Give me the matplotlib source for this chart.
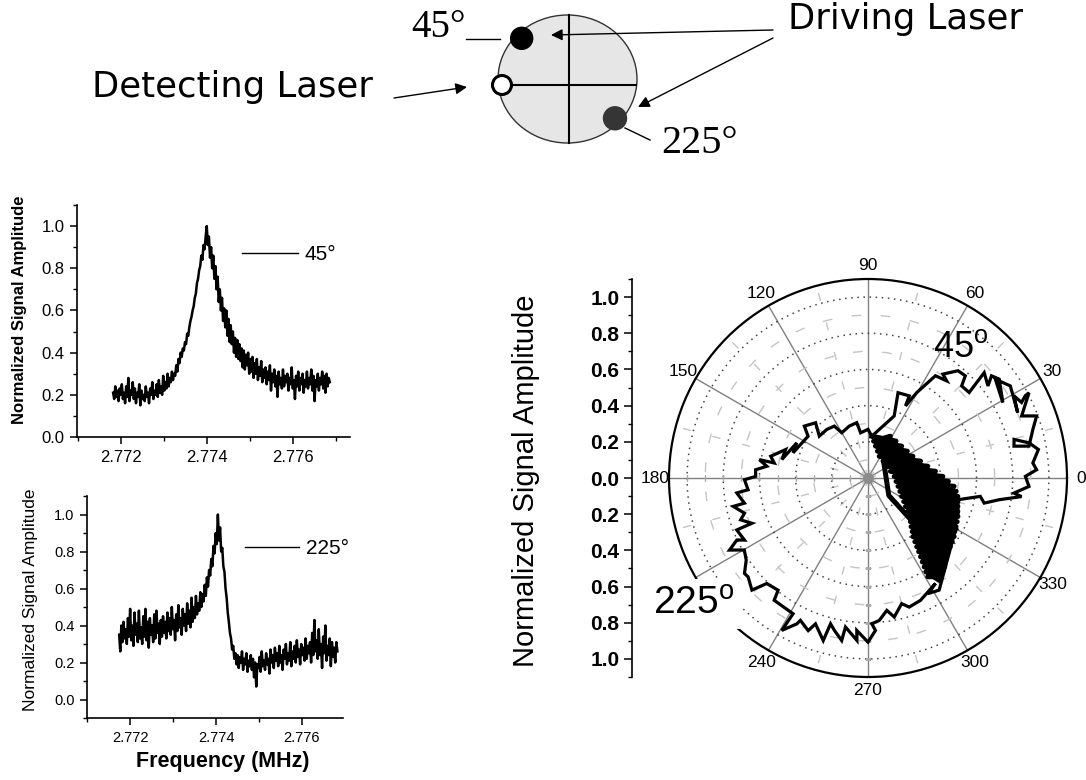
import numpy as np
import matplotlib
matplotlib.use('Agg')
import matplotlib.pyplot as plt
from matplotlib.patches import Ellipse, Circle
from matplotlib.ticker import MultipleLocator, FuncFormatter

plt.rcParams['font.family'] = ['Liberation Sans', 'DejaVu Sans']
plt.rcParams['mathtext.fontset'] = 'custom'
plt.rcParams['mathtext.rm'] = 'Liberation Sans'

# ---------------- data ----------------
# top spectrum (driving at 45 deg)
f45_start, f45_stop = 2.77182, 2.77686
amp45 = [0.21,0.18,0.24,0.19,0.22,0.17,0.23,0.20,0.25,0.18,0.21,0.16,0.24,0.19,0.28,0.17,0.22,0.20,0.26,0.18,
         0.23,0.16,0.21,0.19,0.25,0.15,0.22,0.18,0.20,0.17,0.24,0.19,0.21,0.16,0.23,0.20,0.26,0.18,0.22,0.20,
         0.25,0.19,0.27,0.21,0.24,0.20,0.29,0.22,0.26,0.23,0.30,0.24,0.28,0.26,0.31,0.27,0.30,0.29,0.34,0.31,
         0.37,0.35,0.40,0.38,0.42,0.41,0.45,0.44,0.49,0.48,0.52,0.55,0.57,0.60,0.62,0.66,0.68,0.73,0.75,0.79,
         0.81,0.86,0.84,0.91,0.89,0.95,1.00,0.91,0.95,0.85,0.90,0.80,0.86,0.75,0.81,0.70,0.76,0.64,0.70,0.60,
         0.66,0.55,0.61,0.52,0.60,0.48,0.56,0.45,0.53,0.44,0.50,0.40,0.47,0.38,0.46,0.37,0.44,0.36,0.42,0.33,
         0.41,0.32,0.39,0.34,0.40,0.30,0.37,0.31,0.38,0.28,0.35,0.30,0.37,0.27,0.33,0.29,0.36,0.26,0.32,0.28,
         0.33,0.25,0.31,0.27,0.34,0.22,0.30,0.26,0.32,0.24,0.29,0.19,0.31,0.25,0.28,0.23,0.32,0.24,0.29,0.26,
         0.30,0.22,0.28,0.25,0.33,0.23,0.27,0.18,0.29,0.24,0.31,0.22,0.28,0.25,0.30,0.21,0.27,0.24,0.31,0.23,
         0.28,0.25,0.32,0.22,0.29,0.17,0.27,0.24,0.30,0.22,0.28,0.25,0.31,0.23,0.29,0.21,0.30,0.24,0.28,0.26]

# bottom spectrum (driving at 225 deg)
f225_start, f225_stop = 2.77174, 2.77683
amp225 = [0.35,0.26,0.40,0.31,0.42,0.33,0.38,0.30,0.44,0.34,0.49,0.32,0.40,0.29,0.47,0.35,0.41,0.31,0.48,0.33,
          0.39,0.30,0.45,0.34,0.49,0.32,0.42,0.28,0.44,0.35,0.40,0.31,0.46,0.33,0.48,0.36,0.41,0.30,0.43,0.34,
          0.45,0.36,0.42,0.33,0.47,0.37,0.44,0.35,0.50,0.38,0.43,0.32,0.46,0.37,0.51,0.39,0.44,0.35,0.49,0.40,
          0.46,0.37,0.52,0.41,0.48,0.39,0.55,0.42,0.50,0.44,0.56,0.46,0.52,0.48,0.58,0.50,0.57,0.53,0.62,0.56,
          0.66,0.61,0.70,0.67,0.76,0.72,0.83,0.79,0.90,0.84,1.00,0.86,0.93,0.80,0.82,0.72,0.69,0.60,0.55,0.47,
          0.42,0.36,0.33,0.27,0.29,0.22,0.25,0.19,0.24,0.17,0.23,0.20,0.26,0.16,0.22,0.19,0.25,0.15,0.21,0.18,
          0.24,0.16,0.22,0.12,0.20,0.07,0.19,0.17,0.23,0.15,0.26,0.18,0.21,0.16,0.25,0.19,0.22,0.14,0.27,0.20,
          0.24,0.17,0.28,0.21,0.25,0.18,0.29,0.20,0.24,0.16,0.27,0.22,0.30,0.19,0.25,0.21,0.31,0.18,0.26,0.22,
          0.29,0.20,0.32,0.23,0.27,0.19,0.30,0.24,0.28,0.21,0.33,0.22,0.29,0.25,0.31,0.20,0.36,0.24,0.43,0.26,
          0.32,0.22,0.38,0.24,0.30,0.17,0.34,0.25,0.40,0.21,0.29,0.24,0.33,0.18,0.31,0.23,0.28,0.20,0.31,0.26]

# polar trace: upper-right lobe (45 deg)
lobe_deg = [84.8,67.1,70.6,63.3,62.5,60.3,58.6,56.6,51.0,54.2,50.0,46.4,44.5,40.2,41.3,42.2,37.5,39.6,37.0,29.2,
            37.8,32.9,23.6,29.4,26.2,27.6,27.9,22.0,20.2,16.4,11.2,12.3,14.8,12.3,9.5,5.2,2.8,0.6,-3.0,-5.9,
            -6.9,-9.4,-12.2,-9.3,-13.6,-21.3]
lobe_r = [0.232,0.372,0.500,0.508,0.449,0.543,0.597,0.677,0.691,0.708,0.774,0.780,0.726,0.732,0.799,0.867,0.836,0.886,0.908,0.854,
          0.891,0.937,0.903,0.926,0.946,0.981,1.007,0.916,0.993,0.950,0.907,0.826,0.835,0.911,0.955,0.915,0.933,0.870,0.891,0.811,
          0.855,0.735,0.657,0.629,0.511,0.534]
# dense central cluster
cluster_deg = [84.8,52.8,76.9,34.3,62.7,17.8,32.0,5.7,3.6,-2.4,-15.5,-8.6,-28.7,-14.7,-37.2,-20.4,-43.0,-26.1,-48.5,-31.7,
               -52.6,-37.1,-54.7,-42.4,-56.3,-47.2,-57.7,-51.4,-58.8,
               -53.5,-58.3,-49.2,-57.1,-45.0,-55.5,-39.9,-53.7,-34.2,-50.5,-28.9,-45.8,-23.2,-40.4,-17.5,-33.4,-11.6,-22.8,-5.5,-7.0,
               1.2,16.6,11.1,48.2,25.8,70.6,43.4,81.4,61.8,
               67.8,39.3,27.9,5.3,-6.2,-12.1,-24.9,-25.5,-37.9,-37.3,-47.7,-47.0,-53.8,-54.2,-55.2,
               -56.8,-55.0,-46.7,-49.8,-36.9,-40.8,-25.4,-28.3,-12.7,-8.8,3.3,25.5,33.7,68.7,
               -40.0,-45.0,-21.0,-30.0]
cluster_r = [0.232,0.256,0.181,0.263,0.135,0.305,0.123,0.375,0.145,0.445,0.172,0.493,0.212,0.514,0.260,0.530,0.312,0.549,0.359,0.564,
             0.408,0.584,0.466,0.603,0.523,0.631,0.581,0.664,0.638,
             0.679,0.610,0.649,0.552,0.615,0.494,0.593,0.437,0.576,0.384,0.556,0.336,0.541,0.285,0.521,0.236,0.507,0.191,0.478,0.156,
             0.414,0.129,0.337,0.125,0.276,0.157,0.256,0.206,0.262,
             0.209,0.219,0.178,0.303,0.260,0.396,0.331,0.450,0.407,0.505,0.488,0.570,0.585,0.651,0.688,
             0.642,0.587,0.586,0.485,0.525,0.396,0.475,0.312,0.424,0.241,0.330,0.172,0.234,0.199,
             0.150,0.420,0.470,0.560]
# big lower-left loop (225 deg)
loop_deg = [-57.6,-62.6,-57.4,-66.8,-72.3,-75.0,-79.3,-81.9,-85.5,-88.5,-87.2,-90.0,-94.2,-93.9,-98.6,-99.2,-102.4,-104.4,-105.4,-109.8,
            -111.4,-115.4,-116.0,-119.5,-118.9,-127.5,-128.7,-133.8,-136.0,-140.5,-142.3,-146.0,-149.8,-152.5,-154.7,-153.3,-158.4,-158.7,-161.8,-164.1,
            -168.1,-168.5,-173.5,-174.4,-179.2,-180.8,-184.2,-186.6,-189.6,-189.1,-192.6,-199.0,-192.1,-206.3,-198.6,-214.9,-219.2,-226.5,-220.7,-229.7,
            -237.0,-239.9,-250.1,-258.5,-260.7,-270.0,-275.2]
loop_r = [0.734,0.720,0.692,0.736,0.749,0.719,0.782,0.739,0.790,0.806,0.844,0.907,0.845,0.900,0.833,0.910,0.863,0.832,0.932,0.857,
          0.906,0.871,0.897,0.968,0.857,0.852,0.795,0.808,0.892,0.859,0.863,0.812,0.791,0.863,0.802,0.764,0.780,0.689,0.741,0.710,
          0.761,0.697,0.730,0.666,0.683,0.621,0.623,0.563,0.609,0.525,0.551,0.482,0.487,0.439,0.437,0.404,0.454,0.421,0.355,0.352,
          0.342,0.289,0.305,0.312,0.253,0.269,0.232]

theta_ticks = list(range(0, 360, 30))
theta_labels = ['0', '30', '60', '90', '120', '150', '180', '', '240', '270', '300', '330']  # 210 hidden under "225°"
radial_ticks = [0.2, 0.4, 0.6, 0.8, 1.0]
radial_minor = [0.1, 0.3, 0.5, 0.7, 0.9]
axis_marks = [0.1, 0.2, 0.3, 0.4, 0.5, 0.6, 0.7, 0.8, 0.9, 1.0]

# ---------------- figure ----------------
W, H = 1086, 780
fig = plt.figure(figsize=(W / 100, H / 100), dpi=100)


def box(l, t, r, b):
    return [l / W, 1 - b / H, (r - l) / W, (b - t) / H]


def style_spec(ax, fs):
    for s in ('top', 'right'):
        ax.spines[s].set_visible(False)
    for s in ('left', 'bottom'):
        ax.spines[s].set_linewidth(1.2)
    ax.xaxis.set_major_locator(MultipleLocator(0.002))
    ax.xaxis.set_minor_locator(MultipleLocator(0.001))
    ax.yaxis.set_major_locator(MultipleLocator(0.2))
    ax.yaxis.set_minor_locator(MultipleLocator(0.1))
    ax.xaxis.set_major_formatter(FuncFormatter(lambda v, p: f"{v:.3f}"))
    ax.yaxis.set_major_formatter(FuncFormatter(lambda v, p: f"{v:.1f}"))
    ax.tick_params(which='major', direction='out', length=5, width=1.1, labelsize=fs, pad=4)
    ax.tick_params(which='minor', direction='out', length=3, width=1.0)
    ax.set_facecolor('none')


# top spectrum
ax1 = fig.add_axes(box(77, 205, 350, 437))
f45 = np.linspace(f45_start, f45_stop, len(amp45))
ax1.plot(f45, amp45, color='black', lw=1.8, label='45°')
ax1.set_xlim(2.77098, 2.77733)
ax1.set_ylim(0, 1.1)
style_spec(ax1, 12)
leg1 = ax1.legend(loc='center left', bbox_to_anchor=(242 / W, 1 - 255 / H), bbox_transform=fig.transFigure,
                  frameon=False, fontsize=15, handlelength=2.7, handletextpad=0.3, borderpad=0, borderaxespad=0)
leg1.get_lines()[0].set_linewidth(1.0)

# bottom spectrum
ax2 = fig.add_axes(box(87, 496, 343, 718))
f225 = np.linspace(f225_start, f225_stop, len(amp225))
ax2.plot(f225, amp225, color='black', lw=1.8, label='225°')
ax2.set_xlim(2.77099, 2.77696)
ax2.set_ylim(-0.1, 1.1)
style_spec(ax2, 10.5)
leg2 = ax2.legend(loc='center left', bbox_to_anchor=(245 / W, 1 - 549 / H), bbox_transform=fig.transFigure,
                  frameon=False, fontsize=15, handlelength=2.6, handletextpad=0.35, borderpad=0, borderaxespad=0)
leg2.get_lines()[0].set_linewidth(1.0)

fig.text(20 / W, 1 - 310 / H, 'Normalized Signal Amplitude', rotation=90, ha='center', va='center',
         fontsize=12, fontweight='bold')
fig.text(31 / W, 1 - 600 / H, 'Normalized Signal Amplitude', rotation=90, ha='center', va='center',
         fontsize=12.5)
fig.text(223 / W, 1 - 762 / H, 'Frequency (MHz)', ha='center', va='center', fontsize=15.5, fontweight='bold')

# polar plot
axp = fig.add_axes(box(669, 279, 1067, 677), projection='polar')
axp.set_ylim(0, 1.1)
axp.set_thetagrids(theta_ticks, labels=theta_labels, fontsize=12.5)
axp.set_rgrids(radial_ticks, labels=[''] * len(radial_ticks))
axp.set_yticks(radial_minor, minor=True)
axp.set_xticks(np.deg2rad(np.array(theta_ticks) + 15), minor=True)
axp.xaxis.grid(True, which='major', color='#808080', lw=1.0, ls='-')
axp.yaxis.grid(True, which='major', color='#444444', lw=1.1, ls=(0, (1, 3)))
axp.xaxis.grid(True, which='minor', color='#c4c4c4', lw=1.0, ls=(0, (6, 16)))
axp.yaxis.grid(True, which='minor', color='#c4c4c4', lw=1.0, ls=(0, (7, 14)))
axp.tick_params(axis='x', which='major', pad=-0.5, labelsize=12.5)
axp.tick_params(axis='y', which='both', length=0)
axp.spines['polar'].set_linewidth(1.6)
axp.spines['polar'].set_color('black')
axp.set_axisbelow(True)

trace_deg = lobe_deg + cluster_deg + loop_deg
trace_r = lobe_r + cluster_r + loop_r
axp.plot(np.deg2rad(trace_deg), trace_r, color='black', lw=2.3, solid_joinstyle='miter', zorder=5)
axp.plot(np.deg2rad(cluster_deg), cluster_r, color='black', lw=3.6, zorder=5)
axp.plot(np.full(len(axis_marks), np.pi), axis_marks, ls='none', marker='|', ms=5, color='#aaaaaa', zorder=2)
axp.plot(np.full(len(axis_marks), 1.5 * np.pi), axis_marks, ls='none', marker='_', ms=5, color='#aaaaaa', zorder=2)
axp.plot([0], [0], ls='none', marker='o', ms=7, color='#8c8c8c', zorder=6)

# linear amplitude axis left of polar plot
axy = fig.add_axes(box(632, 279, 633, 677))
axy.set_ylim(-1.1, 1.1)
axy.set_xticks([])
for s in ('top', 'right', 'bottom'):
    axy.spines[s].set_visible(False)
axy.spines['left'].set_linewidth(1.2)
axy.yaxis.set_major_locator(MultipleLocator(0.2))
axy.yaxis.set_minor_locator(MultipleLocator(0.1))
axy.yaxis.set_major_formatter(FuncFormatter(lambda v, p: f"{abs(v):.1f}"))
axy.tick_params(which='major', direction='out', length=6, width=1.1, labelsize=15, pad=3)
axy.tick_params(which='minor', direction='out', length=3, width=1.0)
for t in axy.get_yticklabels():
    t.set_fontweight('bold')
axy.set_facecolor('none')
fig.text(526 / W, 1 - 481 / H, 'Normalized Signal Amplitude', rotation=90, ha='center', va='center', fontsize=21)

# ---------------- schematic / overlay ----------------
axd = fig.add_axes([0, 0, 1, 1], zorder=10)
axd.set_xlim(0, W)
axd.set_ylim(H, 0)
axd.axis('off')
axd.patch.set_visible(False)

axd.add_patch(Ellipse((567.5, 79), 139, 128, facecolor='#e6e6e6', edgecolor='#333333', lw=1.0, zorder=1))
axd.plot([569, 569], [15, 143], color='black', lw=1.5, zorder=2)
axd.plot([512, 636], [85, 85], color='black', lw=1.5, zorder=2)
axd.add_patch(Circle((521.7, 38.3), 11, facecolor='black', edgecolor='black', zorder=3))
axd.add_patch(Circle((502, 85), 9.5, facecolor='white', edgecolor='black', lw=2.2, zorder=3))
axd.add_patch(Circle((615, 118.3), 11.5, facecolor='#353535', edgecolor='#353535', zorder=3))
axd.plot([466, 500], [39, 39], color='black', lw=1.0)
axd.plot([625, 650], [128, 140], color='black', lw=1.0)

arrow = dict(arrowstyle='-|>', color='black', lw=1.0, mutation_scale=17, shrinkA=0, shrinkB=0)
axd.annotate('', xy=(551, 35), xytext=(773, 30), arrowprops=arrow)
axd.annotate('', xy=(638, 107), xytext=(773, 38), arrowprops=arrow)
axd.annotate('', xy=(467, 87), xytext=(394, 98), arrowprops=arrow)

axd.text(788, 29, 'Driving Laser', fontsize=25.5, family='DejaVu Sans', va='baseline', ha='left')
axd.text(92, 97, 'Detecting Laser', fontsize=25.5, family='DejaVu Sans', va='baseline', ha='left')
axd.text(411, 37, '45°', fontsize=28, family='Liberation Serif', va='baseline', ha='left')
axd.text(661, 153, '225°', fontsize=29, family='Liberation Serif', va='baseline', ha='left')

axd.text(933, 357, r'45$^{\rm o}$', fontsize=26, va='baseline', ha='left')
axd.text(653, 614, r'225$^{\rm o}$', fontsize=28, va='baseline', ha='left',
         bbox=dict(facecolor='white', edgecolor='none', pad=5))

fig.savefig('out.png', dpi=100, facecolor='white')
